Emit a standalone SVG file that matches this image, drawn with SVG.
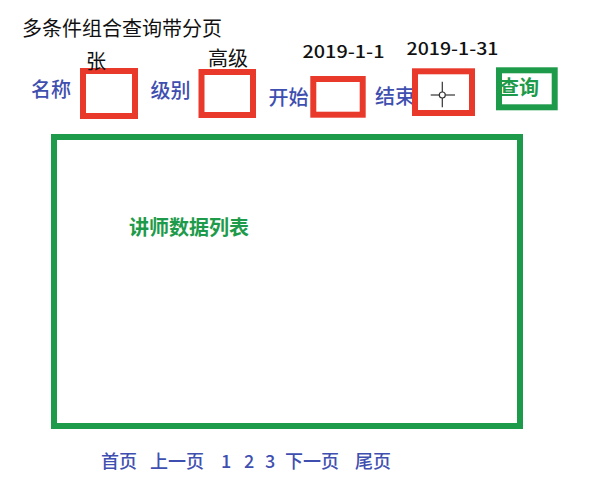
<svg xmlns="http://www.w3.org/2000/svg" width="591" height="499" viewBox="0 0 591 499">
<style>
text{font-family:"Noto Sans CJK SC","Noto Sans",sans-serif}
.t{font-size:20px;fill:#111}
.lb{font-size:20px;fill:#3f4fb0;font-weight:500}
.dt{font-size:17px;fill:#111;font-weight:500}
.g{font-size:20px;fill:#1e9b4a;font-weight:bold}
.pg{font-size:18px;fill:#3f4fb0;font-weight:500}
.red{fill:#fff;stroke:#e8392b;stroke-width:6}
.grn{fill:none;stroke:#1e9b4a;stroke-width:6}
</style>
<rect width="591" height="499" fill="#fff"/>
<text class="t" x="22" y="36">多条件组合查询带分页</text>
<g id="name">
<text class="lb" x="31" y="96.5">名称</text>
<rect class="red" x="83" y="71" width="52" height="45"/>
<text class="t" x="86" y="68.5">张</text>
</g>
<g id="level">
<text class="lb" x="150.5" y="97.5">级别</text>
<rect class="red" x="201.5" y="72" width="51.5" height="43"/>
<text class="t" x="208" y="65.5">高级</text>
</g>
<g id="start">
<text class="lb" x="268.5" y="104.5">开始</text>
<rect class="red" x="313.3" y="79" width="49.4" height="35.7"/>
<text class="dt" x="302.5" y="58" textLength="82" lengthAdjust="spacingAndGlyphs">2019-1-1</text>
</g>
<g id="end">
<text class="lb" x="375" y="103.5">结束</text>
<rect class="red" x="415" y="71.3" width="57" height="41.7"/>
<text class="dt" x="406.5" y="55" textLength="92" lengthAdjust="spacingAndGlyphs">2019-1-31</text>
<g stroke="#333" stroke-width="1.2" fill="none">
<line x1="430.7" y1="95" x2="439.3" y2="95"/>
<line x1="445.3" y1="95" x2="455" y2="95"/>
<line x1="442.3" y1="81.7" x2="442.3" y2="92"/>
<line x1="442.3" y1="98" x2="442.3" y2="107.3"/>
<circle cx="442.3" cy="95" r="3"/>
</g>
</g>
<g id="query">
<rect class="grn" x="499" y="70.3" width="55.7" height="37"/>
<text class="g" x="499" y="95">查询</text>
</g>
<g id="list">
<rect class="grn" x="54" y="137" width="466" height="289"/>
<text class="g" x="129" y="235">讲师数据列表</text>
</g>
<g id="pager">
<text class="pg" x="101" y="468">首页</text>
<text class="pg" x="150" y="468">上一页</text>
<text class="pg" x="221" y="468">1</text>
<text class="pg" x="244" y="468">2</text>
<text class="pg" x="265" y="468">3</text>
<text class="pg" x="285" y="468">下一页</text>
<text class="pg" x="355" y="468">尾页</text>
</g>
<g id="connectors"></g>
</svg>
